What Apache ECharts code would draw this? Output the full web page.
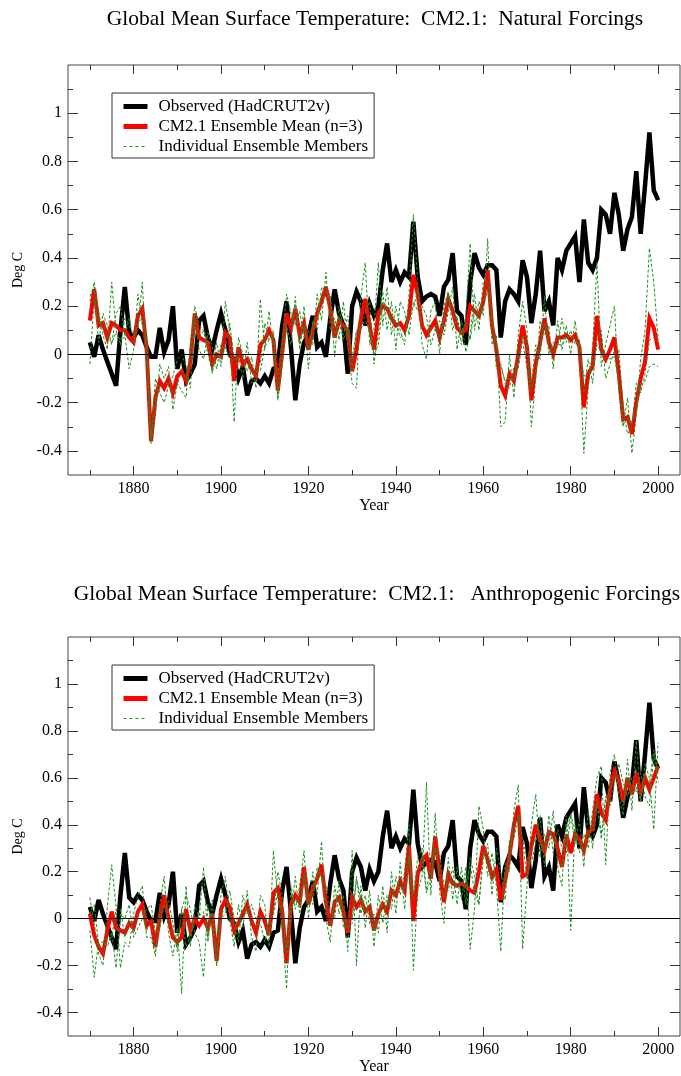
<!DOCTYPE html>
<html>
<head>
<meta charset="utf-8">
<title>Global Mean Surface Temperature: CM2.1</title>
<script src="https://cdn.jsdelivr.net/npm/echarts@6/dist/echarts.min.js"></script>
<style>
  html, body { margin: 0; padding: 0; background: #fff; }
  #chart { width: 681px; height: 1076px; }
</style>
</head>
<body>
<div id="chart"></div>
<script>
// Annual global-mean surface temperature anomalies (deg C), one value per year from 1870 to 2000.
const startYear = 1870;

const observed = [
  0.05, -0.01, 0.08, 0.02, -0.03, -0.08, -0.13, 0.10, 0.28, 0.09,
  0.07, 0.10, 0.08, 0.03, -0.01, -0.01, 0.11, 0.01, 0.06, 0.20,
  -0.06, 0.02, -0.11, -0.08, -0.04, 0.14, 0.16, 0.07, 0.02, 0.10,
  0.17, 0.10, 0.00, -0.02, -0.10, -0.05, -0.17, -0.11, -0.10, -0.12,
  -0.09, -0.12, -0.06, -0.05, 0.12, 0.22, 0.03, -0.19, -0.04, 0.05,
  0.08, 0.16, 0.03, 0.05, -0.01, 0.15, 0.27, 0.17, 0.12, -0.08,
  0.20, 0.26, 0.22, 0.12, 0.21, 0.16, 0.20, 0.35, 0.46, 0.30,
  0.35, 0.30, 0.34, 0.32, 0.55, 0.32, 0.22, 0.24, 0.25, 0.24,
  0.16, 0.28, 0.31, 0.42, 0.18, 0.16, 0.04, 0.30, 0.42, 0.36,
  0.33, 0.37, 0.37, 0.35, 0.07, 0.22, 0.27, 0.25, 0.22, 0.39,
  0.32, 0.13, 0.25, 0.43, 0.18, 0.22, 0.12, 0.40, 0.35, 0.43,
  0.46, 0.49, 0.30, 0.56, 0.38, 0.35, 0.40, 0.60, 0.58, 0.50,
  0.67, 0.58, 0.43, 0.52, 0.57, 0.76, 0.50, 0.70, 0.92, 0.68,
  0.64
];

// Natural forcings run
const naturalMean = [
  0.14, 0.27, 0.12, 0.13, 0.07, 0.13, 0.12, 0.10, 0.10, 0.07,
  0.05, 0.16, 0.19, 0.02, -0.36, -0.18, -0.11, -0.14, -0.10, -0.16,
  -0.09, -0.07, -0.11, -0.03, 0.17, 0.07, 0.06, 0.05, -0.04, 0.00,
  -0.01, 0.09, 0.07, -0.11, 0.03, -0.04, -0.02, -0.06, -0.09, 0.04,
  0.06, 0.10, 0.06, -0.15, 0.01, 0.17, 0.11, 0.19, 0.08, 0.13,
  0.02, 0.10, 0.17, 0.22, 0.28, 0.19, 0.07, 0.14, 0.12, 0.10,
  -0.07, 0.02, 0.15, 0.23, 0.12, 0.02, 0.17, 0.20, 0.19, 0.15,
  0.12, 0.13, 0.10, 0.16, 0.33, 0.25, 0.12, 0.08, 0.11, 0.14,
  0.07, 0.14, 0.23, 0.18, 0.11, 0.09, 0.10, 0.20, 0.18, 0.16,
  0.22, 0.35, 0.12, 0.02, -0.13, -0.17, -0.08, -0.11, 0.00, 0.12,
  0.03, -0.19, -0.04, 0.05, 0.15, 0.05, 0.00, 0.07, 0.07, 0.08,
  0.06, 0.08, 0.03, -0.22, -0.08, -0.05, 0.16, 0.02, -0.02, 0.02,
  0.07, -0.08, -0.27, -0.26, -0.33, -0.20, -0.10, -0.03, 0.15, 0.11,
  0.02
];

const naturalMember1 = [
  0.22, 0.30, 0.18, 0.08, 0.02, 0.30, 0.10, 0.04, 0.15, 0.12,
  0.08, 0.10, 0.30, -0.05, -0.37, -0.25, -0.04, -0.10, -0.05, -0.23,
  -0.12, -0.15, -0.18, 0.05, 0.20, 0.12, 0.10, 0.00, -0.07, 0.05,
  -0.05, 0.22, 0.10, -0.28, 0.07, 0.00, -0.07, -0.01, -0.14, 0.23,
  0.02, 0.18, 0.00, -0.08, 0.06, 0.25, 0.17, 0.12, 0.18, 0.07,
  0.10, 0.04, 0.25, 0.14, 0.34, 0.10, 0.15, 0.06, 0.22, 0.03,
  -0.12, -0.14, 0.24, 0.38, 0.04, 0.10, 0.38, 0.12, 0.28, 0.08,
  0.20, 0.10, 0.04, 0.24, 0.58, 0.30, 0.04, -0.02, 0.18, 0.22,
  0.00, 0.20, 0.26, 0.10, 0.16, 0.04, 0.16, 0.46, 0.10, 0.22,
  0.16, 0.48, 0.04, 0.08, -0.30, -0.28, 0.00, -0.18, 0.08, 0.22,
  0.10, -0.30, -0.10, 0.14, 0.08, 0.12, -0.06, 0.14, 0.02, 0.12,
  0.00, 0.14, 0.00, -0.41, -0.14, 0.02, 0.38, -0.05, 0.04, 0.12,
  0.20, -0.15, -0.30, -0.18, -0.41, -0.25, -0.02, 0.10, 0.44, 0.30,
  0.06
];

const naturalMember2 = [
  0.24, 0.28, 0.05, 0.17, 0.12, 0.04, 0.17, 0.20, 0.08, -0.06,
  0.02, 0.25, 0.12, 0.08, -0.35, -0.10, -0.16, -0.20, -0.13, -0.09,
  -0.02, 0.00, -0.05, -0.14, 0.14, 0.02, -0.02, 0.09, 0.03, -0.06,
  0.04, 0.02, 0.13, -0.02, -0.01, -0.10, 0.05, -0.12, -0.06, -0.04,
  0.13, 0.06, 0.10, -0.19, -0.05, 0.12, 0.04, 0.24, 0.02, 0.20,
  -0.06, 0.14, 0.10, 0.28, 0.26, 0.22, -0.01, 0.20, 0.08, 0.16,
  -0.02, 0.10, 0.10, 0.17, 0.22, -0.04, 0.09, 0.26, 0.10, 0.22,
  0.02, 0.22, 0.18, 0.08, 0.22, 0.18, 0.20, 0.16, 0.04, 0.10,
  0.14, 0.08, 0.18, 0.28, 0.02, 0.14, 0.01, 0.08, 0.25, 0.10,
  0.30, 0.30, 0.18, -0.06, -0.04, -0.12, -0.14, -0.05, -0.06, 0.06,
  -0.06, -0.12, 0.04, -0.02, 0.24, 0.00, 0.05, 0.03, 0.15, 0.05,
  0.10, 0.04, 0.06, -0.16, -0.02, -0.12, 0.06, 0.10, -0.10, -0.04,
  0.02, 0.02, -0.22, -0.33, -0.30, -0.12, -0.16, -0.08, 0.06, 0.07,
  0.05
];

const naturalMember3 = [
  -0.04, 0.23, 0.13, 0.14, 0.07, 0.05, 0.09, 0.06, 0.07, 0.15,
  0.05, 0.13, 0.15, 0.03, -0.36, -0.19, -0.13, -0.12, -0.12, -0.16,
  -0.13, -0.06, -0.10, 0.00, 0.17, 0.07, 0.10, 0.06, -0.08, 0.01,
  -0.02, 0.03, -0.02, -0.03, 0.03, -0.02, -0.04, -0.05, -0.07, -0.07,
  0.03, 0.06, 0.08, -0.18, 0.02, 0.14, 0.12, 0.21, 0.04, 0.12,
  0.02, 0.12, 0.16, 0.24, 0.24, 0.25, 0.07, 0.16, 0.06, 0.11,
  -0.07, 0.10, 0.11, 0.14, 0.10, 0.00, 0.04, 0.22, 0.19, 0.15,
  0.14, 0.07, 0.08, 0.16, 0.19, 0.27, 0.12, 0.10, 0.11, 0.10,
  0.07, 0.14, 0.25, 0.16, 0.15, 0.09, 0.13, 0.06, 0.19, 0.16,
  0.20, 0.27, 0.14, 0.04, -0.05, -0.11, -0.10, -0.10, -0.02, 0.08,
  0.05, -0.15, -0.06, 0.03, 0.13, 0.03, 0.01, 0.04, 0.04, 0.07,
  0.08, 0.06, 0.03, -0.09, -0.08, -0.05, 0.04, 0.01, 0.00, -0.02,
  -0.01, -0.11, -0.29, -0.27, -0.28, -0.23, -0.12, -0.11, -0.05, -0.04,
  -0.05
];

// Anthropogenic forcings run
const anthroMean = [
  0.02, -0.07, -0.12, -0.15, -0.05, 0.03, -0.04, -0.05, -0.06, -0.02,
  -0.04, 0.03, 0.06, -0.03, -0.01, -0.12, 0.01, 0.10, 0.00, -0.08,
  -0.10, -0.08, 0.04, -0.05, 0.00, -0.03, 0.00, -0.04, 0.02, -0.18,
  0.04, 0.08, 0.05, -0.05, -0.02, 0.02, 0.06, -0.01, -0.06, 0.03,
  -0.01, -0.07, 0.11, 0.13, 0.03, -0.19, 0.06, 0.10, 0.07, 0.22,
  0.06, 0.13, 0.17, 0.23, 0.07, -0.03, 0.07, 0.09, 0.03, -0.06,
  0.09, 0.05, 0.08, 0.03, 0.05, -0.05, 0.02, 0.06, 0.03, 0.12,
  0.10, 0.16, 0.12, 0.31, -0.01, 0.19, 0.25, 0.27, 0.17, 0.35,
  0.20, 0.07, 0.19, 0.15, 0.14, 0.15, 0.14, 0.12, 0.11, 0.20,
  0.31, 0.25, 0.18, 0.21, 0.08, 0.16, 0.27, 0.40, 0.48, 0.18,
  0.19, 0.31, 0.40, 0.34, 0.29, 0.37, 0.36, 0.30, 0.22, 0.36,
  0.28, 0.36, 0.34, 0.29, 0.37, 0.38, 0.53, 0.45, 0.42, 0.55,
  0.63, 0.59, 0.50, 0.60, 0.53, 0.62, 0.54, 0.60, 0.55, 0.60,
  0.65
];

const anthroMember1 = [
  0.09, -0.02, -0.15, -0.20, 0.05, 0.23, 0.05, -0.21, -0.10, -0.12,
  0.02, 0.10, 0.14, -0.08, -0.08, -0.16, 0.06, 0.18, -0.06, -0.16,
  -0.04, -0.32, 0.14, -0.12, 0.06, 0.00, 0.22, -0.10, 0.08, -0.20,
  0.10, 0.18, 0.00, -0.12, 0.06, -0.04, 0.12, -0.08, -0.14, 0.10,
  0.06, -0.12, 0.29, 0.08, -0.04, -0.30, 0.14, 0.04, 0.14, 0.29,
  0.00, 0.20, 0.10, 0.33, 0.00, -0.10, 0.14, 0.02, 0.10, -0.14,
  0.29, -0.20, 0.14, -0.04, 0.12, -0.12, 0.10, -0.02, 0.10, 0.04,
  0.18, 0.10, 0.20, 0.40, -0.22, 0.12, 0.18, 0.58, 0.10, 0.45,
  0.12, -0.02, 0.26, 0.08, 0.22, 0.08, 0.22, -0.13, 0.04, 0.48,
  0.38, 0.18, 0.28, 0.14, -0.14, 0.24, 0.20, 0.46, 0.57, -0.13,
  0.14, 0.40, 0.53, 0.26, 0.36, 0.30, 0.46, 0.22, 0.14, 0.44,
  -0.05, 0.40, 0.28, 0.36, 0.30, 0.46, 0.60, 0.65, 0.23, 0.62,
  0.70, 0.52, 0.44, 0.68, 0.46, 0.76, 0.50, 0.66, 0.60, 0.38,
  0.75
];

const anthroMember2 = [
  -0.05, -0.25, -0.10, -0.10, -0.12, -0.06, -0.21, 0.02, 0.00, 0.06,
  -0.08, -0.04, 0.00, 0.04, 0.06, -0.06, -0.04, 0.06, 0.08, -0.02,
  -0.14, 0.04, 0.10, 0.04, -0.06, -0.10, -0.25, 0.06, -0.04, -0.14,
  0.00, 0.02, 0.12, 0.00, -0.10, 0.10, 0.02, 0.06, 0.00, -0.02,
  -0.10, -0.02, 0.02, 0.20, 0.10, -0.12, 0.00, 0.18, 0.02, 0.18,
  0.12, 0.06, 0.22, 0.18, 0.14, 0.04, 0.00, 0.16, -0.04, 0.00,
  0.00, 0.18, 0.02, 0.10, -0.02, 0.02, -0.06, 0.14, -0.06, 0.20,
  0.02, 0.24, 0.04, 0.26, 0.10, 0.26, 0.30, 0.12, 0.24, 0.30,
  0.28, 0.14, 0.12, 0.22, 0.06, 0.22, 0.06, 0.26, 0.18, 0.06,
  0.26, 0.32, 0.10, 0.30, 0.20, 0.08, 0.34, 0.34, 0.44, 0.34,
  0.26, 0.24, 0.32, 0.44, 0.22, 0.44, 0.28, 0.38, 0.30, 0.28,
  0.44, 0.32, 0.42, 0.22, 0.46, 0.30, 0.48, 0.34, 0.52, 0.48,
  0.58, 0.66, 0.58, 0.52, 0.60, 0.54, 0.62, 0.52, 0.48, 0.70,
  0.58
];

const anthroMember3 = [
  0.02, 0.06, -0.11, -0.15, -0.08, -0.08, 0.04, 0.04, -0.08, 0.00,
  -0.06, 0.03, 0.04, -0.05, -0.01, -0.14, 0.01, 0.06, -0.02, -0.06,
  -0.12, 0.04, -0.12, -0.07, 0.00, 0.01, 0.03, -0.08, 0.02, -0.20,
  0.02, 0.04, 0.03, -0.03, -0.02, 0.00, 0.04, -0.01, -0.04, 0.01,
  0.01, -0.07, 0.02, 0.11, 0.03, -0.15, 0.04, 0.08, 0.05, 0.19,
  0.06, 0.13, 0.19, 0.18, 0.07, -0.03, 0.07, 0.09, 0.03, -0.04,
  -0.02, 0.17, 0.08, 0.03, 0.05, -0.05, 0.02, 0.06, 0.05, 0.12,
  0.10, 0.14, 0.12, 0.27, 0.09, 0.19, 0.27, 0.11, 0.17, 0.30,
  0.20, 0.09, 0.19, 0.15, 0.14, 0.15, 0.14, 0.23, 0.11, 0.06,
  0.29, 0.25, 0.16, 0.19, 0.18, 0.16, 0.27, 0.40, 0.43, 0.33,
  0.17, 0.29, 0.35, 0.32, 0.29, 0.37, 0.34, 0.30, 0.22, 0.36,
  0.45, 0.36, 0.32, 0.29, 0.35, 0.38, 0.51, 0.36, 0.51, 0.55,
  0.61, 0.59, 0.48, 0.60, 0.53, 0.56, 0.50, 0.62, 0.57, 0.72,
  0.62
];

// Axis ticks and labels
const xMajorTicks = [1880, 1900, 1920, 1940, 1960, 1980, 2000];
const xMinorTicks = [1870, 1890, 1910, 1930, 1950, 1970, 1990];
const yMajorTicks = [-0.4, -0.2, 0, 0.2, 0.4, 0.6, 0.8, 1];
const yMinorTicks = [-0.3, -0.1, 0.1, 0.3, 0.5, 0.7, 0.9, 1.1];
const yTickLabels = [-0.4, -0.2, 0, 0.2, 0.4, 0.6, 0.8, 1];

const titles = [
  'Global Mean Surface Temperature:  CM2.1:  Natural Forcings',
  'Global Mean Surface Temperature:  CM2.1:   Anthropogenic Forcings'
];
const seriesNames = ['Observed (HadCRUT2v)', 'CM2.1 Ensemble Mean (n=3)', 'Individual Ensemble Members'];

const panels = [
  { top: 65, height: 410, mean: naturalMean, members: [naturalMember1, naturalMember2, naturalMember3], titleX: 375, titleY: 19, legendTop: 93 },
  { top: 637, height: 402, mean: anthroMean, members: [anthroMember1, anthroMember2, anthroMember3], titleX: 377, titleY: 594, legendTop: 665 }
];

const FONT = '"Liberation Serif", "Times New Roman", serif';
const X_MIN = 1865, X_MAX = 2005, Y_MIN = -0.5, Y_MAX = 1.2;
const TICK_COLOR = '#333';
const GREEN = '#1f8f1f';

function pairs(values) {
  return values.map((v, i) => [startYear + i, v]);
}

const grid = [], xAxis = [], yAxis = [], series = [], legend = [], graphic = [];

panels.forEach((p, g) => {
  grid.push({
    left: 68, top: p.top, width: 612, height: p.height,
    show: true, borderColor: '#444', borderWidth: 1, backgroundColor: 'transparent'
  });

  const xBase = { gridIndex: g, type: 'value', min: X_MIN, max: X_MAX,
    axisLine: { show: false, onZero: false }, splitLine: { show: false } };
  const yBase = { gridIndex: g, type: 'value', min: Y_MIN, max: Y_MAX,
    axisLine: { show: false, onZero: false }, splitLine: { show: false } };
  const tick = (vals, len) => ({ show: true, inside: true, length: len, customValues: vals,
    lineStyle: { color: TICK_COLOR, width: 1 } });
  const noLabel = { show: false };

  xAxis.push(Object.assign({}, xBase, {
    position: 'bottom',
    axisTick: tick(xMajorTicks, 9),
    axisLabel: { customValues: xMajorTicks, formatter: v => String(v), color: '#000',
      fontFamily: FONT, fontSize: 16, margin: 6 },
    name: 'Year', nameLocation: 'middle', nameGap: 23,
    nameTextStyle: { fontFamily: FONT, fontSize: 16, color: '#000' }
  }));
  xAxis.push(Object.assign({}, xBase, { position: 'bottom', axisTick: tick(xMinorTicks, 5), axisLabel: noLabel }));
  xAxis.push(Object.assign({}, xBase, { position: 'top', axisTick: tick(xMajorTicks, 9), axisLabel: noLabel }));
  xAxis.push(Object.assign({}, xBase, { position: 'top', axisTick: tick(xMinorTicks, 5), axisLabel: noLabel }));

  yAxis.push(Object.assign({}, yBase, {
    position: 'left',
    axisTick: tick(yMajorTicks, 10),
    axisLabel: { customValues: yTickLabels, formatter: v => String(v), color: '#000',
      fontFamily: FONT, fontSize: 16, margin: 6 },
    name: 'Deg C', nameLocation: 'middle', nameRotate: 90, nameGap: 39,
    nameTextStyle: { fontFamily: FONT, fontSize: 14, color: '#000' }
  }));
  yAxis.push(Object.assign({}, yBase, { position: 'left', axisTick: tick(yMinorTicks, 5), axisLabel: noLabel }));
  yAxis.push(Object.assign({}, yBase, { position: 'right', axisTick: tick(yMajorTicks, 10), axisLabel: noLabel }));
  yAxis.push(Object.assign({}, yBase, { position: 'right', axisTick: tick(yMinorTicks, 5), axisLabel: noLabel }));

  const ax = { xAxisIndex: g * 4, yAxisIndex: g * 4 };

  series.push(Object.assign({
    type: 'line', name: seriesNames[0], data: pairs(observed),
    symbol: 'none', showSymbol: false, z: 2,
    lineStyle: { color: '#000', width: 4.5, join: 'miter', miterLimit: 4 },
    itemStyle: { color: '#000' },
    markLine: {
      silent: true, symbol: 'none', label: { show: false },
      lineStyle: { color: '#000', width: 1, type: 'solid' },
      data: [{ yAxis: 0 }]
    }
  }, ax));

  series.push(Object.assign({
    type: 'line', name: seriesNames[1], data: pairs(p.mean),
    symbol: 'none', showSymbol: false, z: 3,
    lineStyle: { color: '#ff0000', width: 4, join: 'miter', miterLimit: 4 },
    itemStyle: { color: '#ff0000' }
  }, ax));

  p.members.forEach(m => {
    series.push(Object.assign({
      type: 'line', name: seriesNames[2], data: pairs(m),
      symbol: 'none', showSymbol: false, z: 4,
      lineStyle: { color: GREEN, width: 1, type: [3, 2] },
      itemStyle: { color: GREEN }
    }, ax));
  });

  legend.push({
    data: [
      { name: seriesNames[0], lineStyle: { width: 5, color: '#000' } },
      { name: seriesNames[1], lineStyle: { width: 5, color: '#ff0000' } },
      { name: seriesNames[2], lineStyle: { width: 1, color: GREEN, type: [3, 3] } }
    ],
    orient: 'vertical', left: 112, top: p.legendTop,
    itemWidth: 24, itemHeight: 14, itemGap: 3,
    padding: [5, 6, 3, 9], borderColor: '#333', borderWidth: 1,
    backgroundColor: '#fff', selectedMode: false,
    itemStyle: { opacity: 0, borderWidth: 0 },
    textStyle: { fontFamily: FONT, fontSize: 17, color: '#000', lineHeight: 17, padding: [0, 0, 0, 6] }
  });

  graphic.push({
    type: 'text', x: p.titleX, y: p.titleY, silent: true,
    style: { text: titles[g], font: '21.5px ' + FONT, fill: '#000',
      align: 'center', verticalAlign: 'middle', textAlign: 'center', textVerticalAlign: 'middle' }
  });
});

const chart = echarts.init(document.getElementById('chart'), null, { renderer: 'canvas' });
chart.setOption({
  animation: false,
  backgroundColor: '#fff',
  grid, xAxis, yAxis, series, legend, graphic
});
</script>
</body>
</html>
